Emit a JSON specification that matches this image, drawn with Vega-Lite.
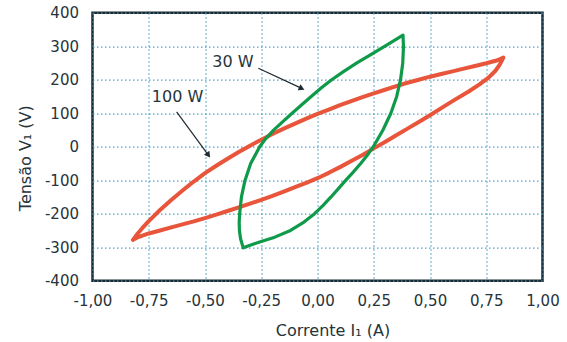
{
  "$schema": "https://vega.github.io/schema/vega-lite/v6.json",
  "width": 450,
  "height": 268,
  "autosize": "none",
  "padding": {"left": 92.5, "top": 12.7, "right": 24.5, "bottom": 61.3},
  "background": "white",
  "config": {
    "view": {"stroke": "#1c2a30", "strokeWidth": 2.5},
    "font": "DejaVu Sans"
  },
  "datasets": {
    "loops": [
      {"s": "100 W", "i": 0, "x": -0.82, "y": -278},
      {"s": "100 W", "i": 1, "x": -0.8, "y": -260},
      {"s": "100 W", "i": 2, "x": -0.78, "y": -244},
      {"s": "100 W", "i": 3, "x": -0.75, "y": -222},
      {"s": "100 W", "i": 4, "x": -0.7, "y": -189},
      {"s": "100 W", "i": 5, "x": -0.65, "y": -159},
      {"s": "100 W", "i": 6, "x": -0.6, "y": -131},
      {"s": "100 W", "i": 7, "x": -0.55, "y": -104},
      {"s": "100 W", "i": 8, "x": -0.5, "y": -79},
      {"s": "100 W", "i": 9, "x": -0.45, "y": -57},
      {"s": "100 W", "i": 10, "x": -0.4, "y": -36},
      {"s": "100 W", "i": 11, "x": -0.35, "y": -16},
      {"s": "100 W", "i": 12, "x": -0.3, "y": 3},
      {"s": "100 W", "i": 13, "x": -0.25, "y": 21},
      {"s": "100 W", "i": 14, "x": -0.2, "y": 38},
      {"s": "100 W", "i": 15, "x": -0.15, "y": 54},
      {"s": "100 W", "i": 16, "x": -0.1, "y": 69},
      {"s": "100 W", "i": 17, "x": -0.05, "y": 84},
      {"s": "100 W", "i": 18, "x": 0, "y": 98},
      {"s": "100 W", "i": 19, "x": 0.05, "y": 111},
      {"s": "100 W", "i": 20, "x": 0.1, "y": 124},
      {"s": "100 W", "i": 21, "x": 0.15, "y": 136},
      {"s": "100 W", "i": 22, "x": 0.2, "y": 148},
      {"s": "100 W", "i": 23, "x": 0.25, "y": 159},
      {"s": "100 W", "i": 24, "x": 0.3, "y": 170},
      {"s": "100 W", "i": 25, "x": 0.35, "y": 181},
      {"s": "100 W", "i": 26, "x": 0.4, "y": 191},
      {"s": "100 W", "i": 27, "x": 0.45, "y": 200},
      {"s": "100 W", "i": 28, "x": 0.5, "y": 209},
      {"s": "100 W", "i": 29, "x": 0.55, "y": 217},
      {"s": "100 W", "i": 30, "x": 0.6, "y": 225},
      {"s": "100 W", "i": 31, "x": 0.65, "y": 233},
      {"s": "100 W", "i": 32, "x": 0.7, "y": 241},
      {"s": "100 W", "i": 33, "x": 0.75, "y": 249},
      {"s": "100 W", "i": 34, "x": 0.8, "y": 258},
      {"s": "100 W", "i": 35, "x": 0.826, "y": 266},
      {"s": "100 W", "i": 36, "x": 0.81, "y": 245},
      {"s": "100 W", "i": 37, "x": 0.79, "y": 226},
      {"s": "100 W", "i": 38, "x": 0.76, "y": 206},
      {"s": "100 W", "i": 39, "x": 0.72, "y": 186},
      {"s": "100 W", "i": 40, "x": 0.67, "y": 164},
      {"s": "100 W", "i": 41, "x": 0.6, "y": 136},
      {"s": "100 W", "i": 42, "x": 0.55, "y": 115},
      {"s": "100 W", "i": 43, "x": 0.5, "y": 94},
      {"s": "100 W", "i": 44, "x": 0.45, "y": 74},
      {"s": "100 W", "i": 45, "x": 0.4, "y": 54},
      {"s": "100 W", "i": 46, "x": 0.35, "y": 34},
      {"s": "100 W", "i": 47, "x": 0.3, "y": 14},
      {"s": "100 W", "i": 48, "x": 0.25, "y": -5},
      {"s": "100 W", "i": 49, "x": 0.2, "y": -25},
      {"s": "100 W", "i": 50, "x": 0.15, "y": -43},
      {"s": "100 W", "i": 51, "x": 0.1, "y": -61},
      {"s": "100 W", "i": 52, "x": 0.05, "y": -78},
      {"s": "100 W", "i": 53, "x": 0, "y": -94},
      {"s": "100 W", "i": 54, "x": -0.05, "y": -108},
      {"s": "100 W", "i": 55, "x": -0.1, "y": -121},
      {"s": "100 W", "i": 56, "x": -0.15, "y": -134},
      {"s": "100 W", "i": 57, "x": -0.2, "y": -147},
      {"s": "100 W", "i": 58, "x": -0.25, "y": -159},
      {"s": "100 W", "i": 59, "x": -0.3, "y": -170},
      {"s": "100 W", "i": 60, "x": -0.35, "y": -181},
      {"s": "100 W", "i": 61, "x": -0.4, "y": -192},
      {"s": "100 W", "i": 62, "x": -0.45, "y": -203},
      {"s": "100 W", "i": 63, "x": -0.5, "y": -213},
      {"s": "100 W", "i": 64, "x": -0.55, "y": -223},
      {"s": "100 W", "i": 65, "x": -0.6, "y": -232},
      {"s": "100 W", "i": 66, "x": -0.65, "y": -241},
      {"s": "100 W", "i": 67, "x": -0.7, "y": -250},
      {"s": "100 W", "i": 68, "x": -0.75, "y": -259},
      {"s": "100 W", "i": 69, "x": -0.8, "y": -271},
      {"s": "100 W", "i": 70, "x": -0.82, "y": -278},
      {"s": "30 W", "i": 0, "x": -0.33, "y": -302},
      {"s": "30 W", "i": 1, "x": -0.342, "y": -275},
      {"s": "30 W", "i": 2, "x": -0.347, "y": -250},
      {"s": "30 W", "i": 3, "x": -0.348, "y": -225},
      {"s": "30 W", "i": 4, "x": -0.346, "y": -200},
      {"s": "30 W", "i": 5, "x": -0.338, "y": -150},
      {"s": "30 W", "i": 6, "x": -0.322, "y": -100},
      {"s": "30 W", "i": 7, "x": -0.297, "y": -50},
      {"s": "30 W", "i": 8, "x": -0.257, "y": 0},
      {"s": "30 W", "i": 9, "x": -0.229, "y": 25},
      {"s": "30 W", "i": 10, "x": -0.194, "y": 50},
      {"s": "30 W", "i": 11, "x": -0.154, "y": 75},
      {"s": "30 W", "i": 12, "x": -0.113, "y": 100},
      {"s": "30 W", "i": 13, "x": -0.07, "y": 125},
      {"s": "30 W", "i": 14, "x": -0.028, "y": 150},
      {"s": "30 W", "i": 15, "x": 0.016, "y": 175},
      {"s": "30 W", "i": 16, "x": 0.063, "y": 200},
      {"s": "30 W", "i": 17, "x": 0.117, "y": 225},
      {"s": "30 W", "i": 18, "x": 0.175, "y": 250},
      {"s": "30 W", "i": 19, "x": 0.237, "y": 275},
      {"s": "30 W", "i": 20, "x": 0.3, "y": 300},
      {"s": "30 W", "i": 21, "x": 0.38, "y": 333},
      {"s": "30 W", "i": 22, "x": 0.382, "y": 300},
      {"s": "30 W", "i": 23, "x": 0.379, "y": 250},
      {"s": "30 W", "i": 24, "x": 0.369, "y": 200},
      {"s": "30 W", "i": 25, "x": 0.352, "y": 150},
      {"s": "30 W", "i": 26, "x": 0.326, "y": 100},
      {"s": "30 W", "i": 27, "x": 0.291, "y": 50},
      {"s": "30 W", "i": 28, "x": 0.248, "y": 0},
      {"s": "30 W", "i": 29, "x": 0.222, "y": -25},
      {"s": "30 W", "i": 30, "x": 0.192, "y": -50},
      {"s": "30 W", "i": 31, "x": 0.16, "y": -75},
      {"s": "30 W", "i": 32, "x": 0.126, "y": -100},
      {"s": "30 W", "i": 33, "x": 0.093, "y": -125},
      {"s": "30 W", "i": 34, "x": 0.06, "y": -150},
      {"s": "30 W", "i": 35, "x": 0.025, "y": -175},
      {"s": "30 W", "i": 36, "x": -0.013, "y": -200},
      {"s": "30 W", "i": 37, "x": -0.06, "y": -225},
      {"s": "30 W", "i": 38, "x": -0.12, "y": -250},
      {"s": "30 W", "i": 39, "x": -0.19, "y": -270},
      {"s": "30 W", "i": 40, "x": -0.25, "y": -283},
      {"s": "30 W", "i": 41, "x": -0.29, "y": -292},
      {"s": "30 W", "i": 42, "x": -0.33, "y": -302}
    ],
    "labels": [
      {"lab": "30 W", "x": -0.376, "y": 254},
      {"lab": "100 W", "x": -0.622, "y": 147}
    ],
    "arrows": [
      {"lab": "30 W", "x": -0.263, "y": 234, "x2": -0.07, "y2": 174},
      {"lab": "100 W", "x": -0.626, "y": 104, "x2": -0.485, "y2": -25}
    ]
  },
  "layer": [
    {
      "data": {"name": "loops"},
      "mark": {"type": "line", "interpolate": "linear", "strokeJoin": "round", "strokeCap": "round"},
      "encoding": {
        "x": {
          "field": "x", "type": "quantitative", "title": "Corrente I\u2081 (A)",
          "scale": {"domain": [-1, 1], "nice": false, "zero": false},
          "axis": {
            "values": [-1, -0.75, -0.5, -0.25, 0, 0.25, 0.5, 0.75, 1],
            "labelExpr": "replace(replace(format(datum.value, '.2f'), '.', ','), '\u2212', '-')",
            "domain": false, "ticks": false, "labelOverlap": false,
            "labelPadding": 13, "labelFontSize": 15, "labelColor": "#26343a",
            "labelFont": "DejaVu Sans", "labelFlush": false,
            "grid": true, "gridColor": "#3d9ac4", "gridDash": [1.5, 2.5], "gridWidth": 1.2, "gridOpacity": 0.9,
            "titleFontSize": 16, "titleFontWeight": "normal",
            "titleColor": "#26343a", "titleFont": "DejaVu Sans",
            "titleX": 240, "titleY": 50, "titleAlign": "center", "titleBaseline": "middle"
          }
        },
        "y": {
          "field": "y", "type": "quantitative", "title": "Tensão V\u2081 (V)",
          "scale": {"domain": [-400, 400], "nice": false, "zero": false},
          "axis": {
            "values": [-400, -300, -200, -100, 0, 100, 200, 300, 400],
            "tickCount": 9,
            "labelExpr": "datum.value + ''",
            "domain": false, "ticks": false, "labelOverlap": false,
            "labelPadding": 14, "labelFontSize": 15, "labelColor": "#26343a",
            "labelFont": "DejaVu Sans", "labelFlush": false,
            "grid": true, "gridColor": "#3d9ac4", "gridDash": [1.5, 2.5], "gridWidth": 1.2, "gridOpacity": 0.9,
            "titleFontSize": 16, "titleFontWeight": "normal",
            "titleColor": "#26343a", "titleFont": "DejaVu Sans",
            "titleX": -67, "titleY": 145, "titleAlign": "center", "titleBaseline": "middle", "titleAngle": -90
          }
        },
        "order": {"field": "i", "type": "quantitative"},
        "color": {
          "field": "s", "type": "nominal",
          "scale": {"domain": ["100 W", "30 W"], "range": ["#e8553b", "#0f9a4a"]},
          "legend": null
        },
        "strokeWidth": {
          "field": "s", "type": "nominal",
          "scale": {"domain": ["100 W", "30 W"], "range": [4, 3.2]},
          "legend": null
        }
      }
    },
    {
      "data": {"name": "arrows"},
      "mark": {"type": "rule", "color": "#1e2a30", "strokeWidth": 1.2},
      "encoding": {
        "x": {"field": "x", "type": "quantitative", "title": "Corrente I\u2081 (A)"},
        "y": {"field": "y", "type": "quantitative", "title": "Tensão V\u2081 (V)"},
        "x2": {"field": "x2"},
        "y2": {"field": "y2"}
      }
    },
    {
      "data": {"name": "arrows"},
      "transform": [{"filter": "datum.lab == '30 W'"}],
      "mark": {"type": "point", "shape": "triangle-right", "filled": true, "color": "#1e2a30", "size": 45, "angle": 25, "opacity": 1},
      "encoding": {
        "x": {"field": "x2", "type": "quantitative", "title": "Corrente I\u2081 (A)"},
        "y": {"field": "y2", "type": "quantitative", "title": "Tensão V\u2081 (V)"}
      }
    },
    {
      "data": {"name": "arrows"},
      "transform": [{"filter": "datum.lab == '100 W'"}],
      "mark": {"type": "point", "shape": "triangle-right", "filled": true, "color": "#1e2a30", "size": 45, "angle": 54, "opacity": 1},
      "encoding": {
        "x": {"field": "x2", "type": "quantitative", "title": "Corrente I\u2081 (A)"},
        "y": {"field": "y2", "type": "quantitative", "title": "Tensão V\u2081 (V)"}
      }
    },
    {
      "data": {"name": "labels"},
      "mark": {"type": "text", "fontSize": 16, "color": "#26343a", "font": "DejaVu Sans", "align": "center", "baseline": "middle"},
      "encoding": {
        "x": {"field": "x", "type": "quantitative", "title": "Corrente I\u2081 (A)"},
        "y": {"field": "y", "type": "quantitative", "title": "Tensão V\u2081 (V)"},
        "text": {"field": "lab"}
      }
    }
  ]
}
